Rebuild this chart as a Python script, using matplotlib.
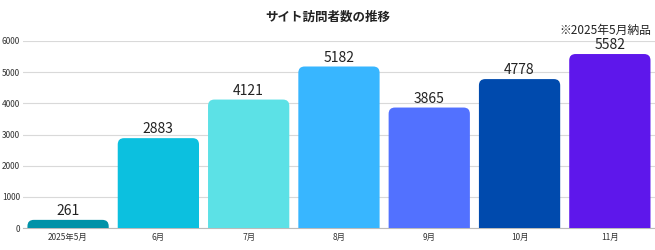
import matplotlib.pyplot as plt
from matplotlib.patches import FancyBboxPatch

plt.rcParams['font.family'] = ['Noto Sans CJK JP', 'DejaVu Sans']

months = ['2025年5月', '6月', '7月', '8月', '9月', '10月', '11月']
visitors = [261, 2883, 4121, 5182, 3865, 4778, 5582]
colors = ['#0092A8', '#0CC0DF', '#5CE1E6', '#38B6FF', '#5271FF', '#004AAD', '#5E17EB']

fig = plt.figure(figsize=(6.55, 2.5), dpi=100)
ax = fig.add_axes([0.035, 0.088, 0.965, 0.748])

bars = ax.bar(range(len(months)), visitors, width=0.9, color=colors)
# swap the plain bars for ones with rounded top corners
for b in bars:
    b.set_visible(False)
    r = 0.07
    p = FancyBboxPatch((b.get_x(), -300), b.get_width(), b.get_height() + 300,
                       boxstyle='round,pad=0,rounding_size=%f' % r,
                       mutation_aspect=2900, facecolor=b.get_facecolor(),
                       edgecolor='none', zorder=3)
    ax.add_patch(p)
    ax.text(b.get_x() + b.get_width() / 2, b.get_height() + 60, str(int(b.get_height())),
            ha='center', va='bottom', fontsize=10, color='#222222', zorder=4)

ax.set_xlim(-0.5, 6.5)
ax.set_ylim(0, 6000)
ax.set_yticks(range(0, 6001, 1000))
ax.set_xticks(range(len(months)))
ax.set_xticklabels(months)
ax.tick_params(axis='both', length=0, labelsize=6, colors='#333333')
ax.tick_params(axis='y', pad=2)
ax.grid(axis='y', color='#d9d9d9', linewidth=0.8, zorder=0)
ax.set_axisbelow(True)
for s in ['top', 'right', 'left']:
    ax.spines[s].set_visible(False)
ax.spines['bottom'].set_color('#bbbbbb')

fig.text(0.5, 0.932, 'サイト訪問者数の推移', ha='center', va='center', fontsize=9, fontweight='bold', color='#222222')
fig.text(0.995, 0.88, '※2025年5月納品', ha='right', va='center', fontsize=8.5, color='#222222')

fig.savefig('out.png', dpi=100)
